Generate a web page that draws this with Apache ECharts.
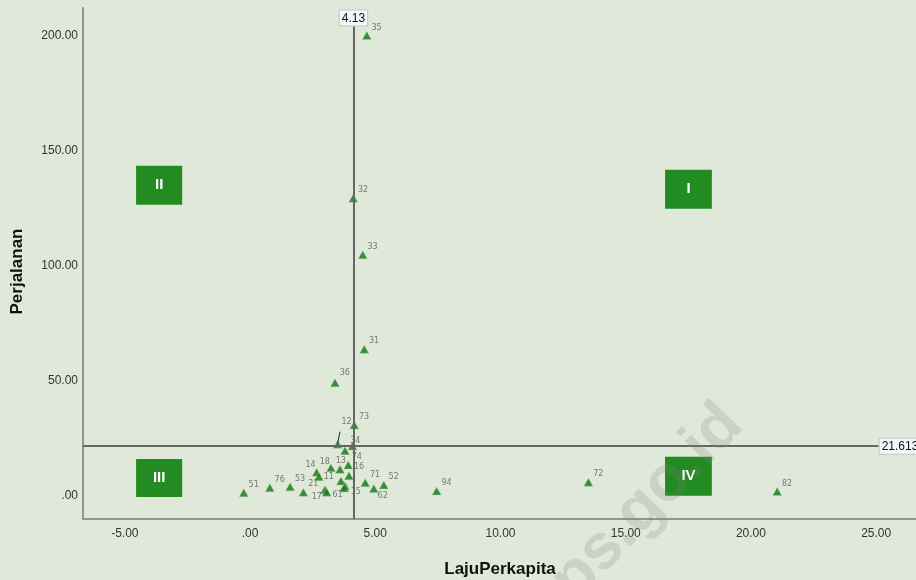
<!DOCTYPE html>
<html><head><meta charset="utf-8">
<script src="https://cdn.jsdelivr.net/npm/echarts@6/dist/echarts.min.js"></script>
<style>html,body{margin:0;padding:0;background:#dfe8d9}#c{width:916px;height:580px}</style>
</head><body><div id="c"></div>
<script>
// ---- data ----
const pointNames   = ['35','32','33','31','36','73','12','34','74','16','13','18','14','11','','','15','','17','61','21','71','52','62','94','51','76','53','72','82'];
const lajuPerkapita = [4.66,4.12,4.50,4.56,3.39,4.16,3.50,4.09,3.79,3.92,3.59,3.23,2.66,2.75,3.95,3.63,3.79,3.76,2.99,3.06,2.13,4.60,5.34,4.94,7.45,-0.25,0.79,1.60,13.51,21.05];
const perjalanan    = [200.0,129.3,104.8,63.7,49.2,30.8,22.5,21.7,19.7,13.5,11.6,12.3,10.3,8.4,8.8,6.5,4.3,3.5,2.7,1.6,1.6,5.8,4.8,3.2,2.2,1.4,3.6,4.0,6.0,1.9];
const xTicks = [-5,0,5,10,15,20,25];
const yTicks = [0,50,100,150,200];
const meanLaju = 4.13;
const meanPerjalanan = 21.613;
const quadrantNames = ['I','II','III','IV'];

// ---- layout helpers (positions / styles) ----
const labelShift = {'74':[2,6],'16':[1,2],'13':[-9,-8],'18':[-16,-6],'14':[-16,-7],'11':[0,0],
  '17':[-18,7],'61':[1,3],'15':[1,6],'62':[-1,7],'34':[-7,-5],'12':[-1,-22],'36':[0,-10]};
const quadrantBoxes = {'I':[[16.57,141.7],[18.44,124.8]],'II':[[-4.55,143.5],[-2.71,126.5]],
  'III':[[-4.55,16.1],[-2.71,-0.4]],'IV':[[16.57,17.0],[18.44,0.1]]};

const fmt = v => v === 0 ? '.00' : v.toFixed(2);

const pts = lajuPerkapita.map((x,i)=>{
  const n = pointNames[i];
  return {name:n, value:[x, perjalanan[i]], label:{offset: labelShift[n] || [0,-8]}};
});

const chart = echarts.init(document.getElementById('c'), null, {renderer:'canvas'});
chart.setOption({
  backgroundColor:'#dfe8d9',
  animation:false,
  grid:{left:83, right:-1, top:8, bottom:61, containLabel:false, outerBoundsMode:'none'},
  xAxis:{type:'value', min:-6.67, max:26.63,
    name:'LajuPerkapita', nameLocation:'middle', nameGap:42,
    nameTextStyle:{fontSize:17, fontWeight:'bold', color:'#111', fontFamily:'Liberation Sans'},
    axisLine:{show:true, onZero:false, lineStyle:{color:'#939393', width:2}},
    axisTick:{show:false}, splitLine:{show:false},
    axisLabel:{customValues:xTicks, formatter:fmt, fontSize:12, color:'#333', margin:9, fontFamily:'Liberation Sans'}},
  yAxis:{type:'value', min:-10, max:212,
    name:'Perjalanan', nameLocation:'middle', nameGap:57,
    nameTextStyle:{fontSize:17, fontWeight:'bold', color:'#111', fontFamily:'Liberation Sans', padding:[0,16,0,0]},
    axisLine:{show:true, onZero:false, lineStyle:{color:'#939393', width:2}},
    axisTick:{show:false}, splitLine:{show:false},
    axisLabel:{customValues:yTicks, formatter:fmt, fontSize:12, color:'#333', margin:5, fontFamily:'Liberation Sans'}},
  series:[{
    type:'scatter',
    symbol:'triangle', symbolSize:[9,8],
    itemStyle:{color:'#0e750e', borderColor:'#a9cca9', borderWidth:0.5},
    label:{show:true, position:'right', distance:0, formatter:'{b}', fontSize:8, color:'#5a5a5a', fontFamily:'DejaVu Sans'},
    data:pts,
    markArea:{silent:true,
      itemStyle:{color:'#228b22', opacity:1},
      label:{show:true, position:'inside', color:'#fff', fontSize:15, fontWeight:'bold', fontFamily:'Liberation Sans'},
      data:quadrantNames.map(q=>[{name:q, coord:quadrantBoxes[q][0]},{coord:quadrantBoxes[q][1]}])},
    markLine:{silent:true, symbol:'none', animation:false,
      lineStyle:{color:'#666', width:2, type:'solid'},
      label:{show:true, position:'end', distance:1, formatter:p=>p.name, color:'#111', fontSize:12,
        backgroundColor:'#f3f6fa', borderColor:'#c4c4c4', borderWidth:1, padding:[2,2,1,2], fontFamily:'Liberation Sans'},
      data:[
        [{name:String(meanLaju), coord:[meanLaju,-10]},{coord:[meanLaju,204]}],
        [{name:String(meanPerjalanan), coord:[-6.67,meanPerjalanan]},{coord:[25.1,meanPerjalanan]}],
        [{name:'', coord:[3.50,23.0], lineStyle:{color:'#222', width:1}, label:{show:false}},{coord:[3.59,27.9]}]
      ]}
  }],
  graphic:[{type:'text', x:634, y:517, rotation:46*Math.PI/180, z:100, silent:true,
    style:{text:'bps.go.id', fontSize:64, fontWeight:'bold', fontFamily:'Liberation Sans',
      fill:'rgba(128,128,128,0.22)', align:'center', verticalAlign:'middle'}}]
});
</script></body></html>
